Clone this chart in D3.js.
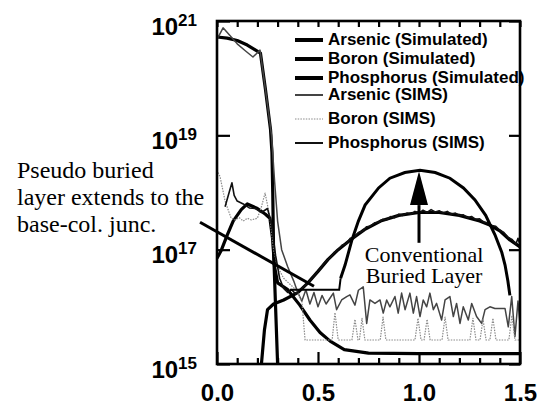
<html>
<head>
<meta charset="utf-8">
<style>
  body { margin: 0; background: #fff; }
  .tick-lab { font-family: "Liberation Sans", Arial, sans-serif; font-weight: bold; fill: #000; }
  .note { font-family: "Liberation Serif", "Times New Roman", serif; fill: #000; }
  .leg { font-family: "Liberation Sans", Arial, sans-serif; font-weight: bold; font-size: 17px; fill: #000; }
</style>
<script src="https://d3js.org/d3.v7.min.js"></script>
</head>
<body>
<svg width="537" height="406"></svg>
<script>
// depth (um) vs log10(concentration)
var asSim = [[0,20.72],[0.05,20.7],[0.1,20.66],[0.15,20.58],[0.215,20.44],[0.24,19.8],[0.265,19.1],[0.272,18.7],[0.276,18.0],[0.28,17.0],[0.29,16.0],[0.3,15.0]];
var asSims = [[0,20.68],[0.03,20.88],[0.1,20.6],[0.14,20.48],[0.178,20.37],[0.213,20.49],[0.24,19.8],[0.27,19.0],[0.285,18.2],[0.3,17.5],[0.32,17.0],[0.35,16.7],[0.38,16.45],
  [0.40,16.25],[0.42,16.1],[0.44,16.3],[0.46,16.05],[0.48,16.25],[0.50,16.0],[0.52,16.2],[0.54,16.05],[0.559,16.15],
  [0.576,16.24],[0.592,15.95],[0.617,16.12],[0.642,16.18],[0.658,16.21],[0.683,16.03],[0.700,16.29],[0.724,16.35],[0.741,15.71],[0.757,16.12],[0.782,16.06],[0.807,16.12],
  [0.823,15.89],[0.840,16.12],[0.856,16.0],[0.881,16.18],[0.897,15.89],[0.914,16.24],[0.931,15.95],[0.955,16.24],[0.972,15.89],[0.988,16.18],[1.005,15.83],[1.021,16.12],
  [1.038,16.0],[1.054,16.24],[1.071,15.95],[1.087,16.06],[1.112,15.77],[1.129,16.12],[1.153,16.18],[1.170,15.83],[1.186,16.06],[1.203,15.71],[1.219,16.0],[1.244,15.77],
  [1.261,16.06],[1.285,15.83],[1.310,15.71],[1.327,15.95],[1.351,16.0],[1.376,15.97],[1.401,15.97],[1.426,15.97],[1.442,15.65],[1.459,16.18],[1.475,15.48],[1.49,16.1],[1.5,15.7]];
var bSim = [[0,16.85],[0.02,16.98],[0.05,17.25],[0.08,17.5],[0.12,17.7],[0.15,17.8],[0.2,17.72],[0.24,17.62],[0.262,17.55],[0.275,17.2],[0.285,16.7],[0.3,16.42],[0.35,16.3],[0.41,16.03],
  [0.46,15.77],[0.51,15.55],[0.56,15.4],[0.63,15.25],[0.75,15.19],[1.0,15.18],[1.5,15.18]];
var bSims = [[0.005,18.35],[0.015,18.28],[0.04,17.85],[0.07,17.55],[0.09,17.52],[0.11,17.56],[0.13,17.5],[0.15,17.55],[0.17,17.52],[0.2,17.55],[0.22,17.75],[0.238,17.99],[0.262,17.57],
  [0.28,17.0],[0.3,16.7],[0.33,16.5],[0.36,16.4],[0.39,16.3],[0.42,16.1],[0.436,15.42],[0.57,15.42],[0.584,15.9],[0.6,15.42],[0.668,15.42],[0.683,15.78],[0.698,15.42],
  [0.705,15.42],[0.718,15.8],[0.732,15.42],[0.808,15.42],[0.822,15.82],[0.836,15.42],[0.98,15.42],[0.995,15.8],[1.01,15.42],[1.025,15.42],[1.04,15.78],[1.055,15.42],
  [1.114,15.42],[1.129,15.82],[1.144,15.42],[1.252,15.42],[1.267,15.8],[1.282,15.42],[1.302,15.42],[1.317,15.78],[1.332,15.42],[1.351,15.42],[1.366,15.8],[1.381,15.42],
  [1.445,15.42],[1.46,15.85],[1.475,15.42],[1.5,15.42]];
var pSim = [[0.22,15.0],[0.235,15.6],[0.25,15.95],[0.28,16.05],[0.33,16.12],[0.4,16.25],[0.45,16.42],[0.5,16.62],[0.55,16.83],[0.6,17.0],[0.66,17.17],[0.73,17.35],[0.81,17.5],
  [0.9,17.6],[1.0,17.65],[1.1,17.65],[1.2,17.6],[1.3,17.5],[1.35,17.43],[1.4,17.33],[1.45,17.17],[1.5,17.05]];
var pSims = [[0.04,17.75],[0.06,18.0],[0.074,18.17],[0.085,17.95],[0.1,17.85],[0.13,17.8],[0.16,17.73],[0.19,17.72],[0.22,17.65],[0.25,17.72],[0.27,17.45],[0.29,16.9],[0.31,16.5],
  [0.33,16.32],[0.35,16.25],[0.37,16.3],[0.39,16.22],[0.41,16.3],[0.43,16.35],[0.45,16.42],[0.47,16.5],[0.49,16.58],[0.51,16.66],
  [0.52,16.72],[0.54,16.8],[0.56,16.86],[0.58,16.95],[0.60,17.0],[0.62,17.08],[0.64,17.1],[0.66,17.2],[0.68,17.22],[0.70,17.3],[0.72,17.32],[0.74,17.4],[0.76,17.41],
  [0.78,17.47],[0.80,17.48],[0.82,17.53],[0.84,17.52],[0.86,17.58],[0.88,17.56],[0.90,17.62],[0.92,17.6],[0.94,17.64],[0.96,17.62],[0.98,17.67],[1.00,17.64],[1.02,17.69],
  [1.04,17.65],[1.06,17.7],[1.08,17.66],[1.10,17.68],[1.12,17.64],[1.14,17.67],[1.16,17.62],[1.18,17.64],[1.20,17.6],[1.22,17.61],[1.24,17.56],[1.26,17.58],[1.28,17.53],
  [1.30,17.54],[1.32,17.48],[1.34,17.47],[1.36,17.42],[1.38,17.41],[1.40,17.34],[1.42,17.3],[1.44,17.22],[1.46,17.18],[1.48,17.1],[1.49,17.2],[1.5,17.08]];
var convFoot = [[0.36,16.3],[0.605,16.3],[0.612,16.5]];
var convBL = [[0.612,16.5],[0.634,16.73],[0.668,17.17],[0.7,17.5],[0.733,17.78],[0.8,18.08],[0.856,18.25],[0.93,18.35],[1.005,18.39],[1.08,18.35],
  [1.153,18.25],[1.22,18.08],[1.277,17.87],[1.33,17.6],[1.376,17.26],[1.41,16.95],[1.426,16.73],[1.44,16.45],[1.45,16.2]];

var xTicks = [0, 0.5, 1.0, 1.5];
var xTickLabels = ["0.0", "0.5", "1.0", "1.5"];
var xMinor = [0.1,0.2,0.3,0.4,0.6,0.7,0.8,0.9,1.1,1.2,1.3,1.4];
var yExps = [15, 17, 19, 21];

var legendLabels = ["Arsenic (Simulated)", "Boron (Simulated)", "Phosphorus (Simulated)", "Arsenic (SIMS)", "Boron (SIMS)", "Phosphorus (SIMS)"];
var noteLines = ["Pseudo buried", "layer extends to the", "base-col. junc."];
var convLines = ["Conventional", "Buried Layer"];

var svg = d3.select("svg");
var m = { left: 217, right: 520, top: 21, bottom: 364 };
var x = d3.scaleLinear().domain([0, 1.5]).range([m.left, m.right]);
var y = d3.scaleLog().domain([1e15, 1e21]).range([m.bottom, m.top]);
var line = d3.line().x(function(d) { return x(d[0]); }).y(function(d) { return y(Math.pow(10, d[1])); });

svg.append("clipPath").attr("id", "pc").append("rect")
  .attr("x", m.left).attr("y", m.top).attr("width", m.right - m.left).attr("height", m.bottom - m.top);

// styles for each series (same order as legend)
var series = [
  { d: asSim, stroke: "#000", w: 3.2, dash: null },
  { d: bSim, stroke: "#000", w: 3.2, dash: null },
  { d: pSim, stroke: "#000", w: 3.2, dash: null },
  { d: asSims, stroke: "#444", w: 1.5, dash: null },
  { d: bSims, stroke: "#8a8a8a", w: 1.2, dash: "1.5,1.2" },
  { d: pSims, stroke: "#111", w: 1.6, dash: null }
];
var plot = svg.append("g").attr("clip-path", "url(#pc)");
series.forEach(function(s) {
  plot.append("path").datum(s.d).attr("d", line)
    .attr("fill", "none").attr("stroke", s.stroke).attr("stroke-width", s.w)
    .attr("stroke-dasharray", s.dash).attr("stroke-linejoin", "round");
});
plot.append("path").datum(convFoot).attr("d", line)
  .attr("fill", "none").attr("stroke", "#000").attr("stroke-width", 2);
plot.append("path").datum(convBL).attr("d", line)
  .attr("fill", "none").attr("stroke", "#000").attr("stroke-width", 3);

// axes with inward ticks
function axisStyle(g) {
  g.selectAll(".domain").remove();
  g.selectAll("line").attr("stroke", "#000").attr("stroke-width", 2.2);
}
svg.append("g").attr("transform", "translate(0," + m.bottom + ")")
  .call(d3.axisBottom(x).tickValues(xMinor).tickSize(-6).tickFormat(""))
  .call(axisStyle);
var xb = svg.append("g").attr("transform", "translate(0," + m.bottom + ")")
  .call(d3.axisBottom(x).tickValues(xTicks).tickSize(-12).tickFormat(function(d, i) { return xTickLabels[i]; }))
  .call(axisStyle);
xb.selectAll("text").attr("class", "tick-lab").attr("y", 37).attr("dy", null)
  .style("font-size", "24px").attr("fill", "#000");
svg.append("g").attr("transform", "translate(0," + m.top + ")")
  .call(d3.axisTop(x).tickValues(xMinor.concat(xTicks)).tickSize(-6).tickFormat(""))
  .call(axisStyle);
var yl = svg.append("g").attr("transform", "translate(" + m.left + ",0)")
  .call(d3.axisLeft(y).tickValues(yExps.map(function(e) { return Math.pow(10, e); })).tickSize(-13).tickPadding(20).tickFormat(""))
  .call(axisStyle);
yl.selectAll(".tick").each(function(d, i) {
  var t = d3.select(this).append("text").attr("class", "tick-lab").attr("text-anchor", "end")
    .attr("x", -20).attr("y", 13).style("font-size", "24px");
  t.append("tspan").text("10");
  t.append("tspan").attr("dy", -9).style("font-size", "17px").text(yExps[i]);
});
svg.append("g").attr("transform", "translate(" + m.right + ",0)")
  .call(d3.axisRight(y).tickValues(yExps.map(function(e) { return Math.pow(10, e); })).tickSize(-11).tickFormat(""))
  .call(axisStyle);

// frame
svg.append("rect").attr("x", m.left).attr("y", m.top).attr("width", m.right - m.left).attr("height", m.bottom - m.top)
  .attr("fill", "none").attr("stroke", "#000").attr("stroke-width", 2.6);

// legend
var leg = svg.append("g");
var legY = [40, 59, 78, 95, 119, 143];
legendLabels.forEach(function(lab, i) {
  var s = series[i];
  leg.append("line").attr("x1", 295).attr("x2", 323).attr("y1", legY[i]).attr("y2", legY[i])
    .attr("stroke", s.stroke).attr("stroke-width", i < 3 ? 4 : (i == 4 ? 1 : 2))
    .attr("stroke-dasharray", s.dash);
  leg.append("text").attr("class", "leg").attr("x", 328).attr("y", legY[i] + 5).text(lab);
});

// annotations
svg.selectAll(".note1").data(noteLines).enter().append("text").attr("class", "note")
  .attr("x", 17).attr("y", function(d, i) { return 178 + i * 27; })
  .style("font-size", "24px").text(function(d) { return d; });
svg.append("line").attr("x1", x(-0.084)).attr("y1", y(Math.pow(10, 17.48)))
  .attr("x2", x(0.48)).attr("y2", y(Math.pow(10, 16.36)))
  .attr("stroke", "#000").attr("stroke-width", 3);

var ax = x(1.0), tip = y(Math.pow(10, 18.37)), base = y(Math.pow(10, 17.78)), foot = y(Math.pow(10, 17.12));
svg.append("line").attr("x1", ax).attr("x2", ax).attr("y1", base).attr("y2", foot)
  .attr("stroke", "#000").attr("stroke-width", 3);
svg.append("path").attr("d", "M" + ax + "," + tip + "L" + (ax - 9) + "," + base + "L" + (ax + 9) + "," + base + "Z")
  .attr("fill", "#000");
svg.selectAll(".note2").data(convLines).enter().append("text").attr("class", "note")
  .attr("x", 424).attr("y", function(d, i) { return 262 + i * 21; }).attr("text-anchor", "middle")
  .style("font-size", "22px").text(function(d) { return d; });
</script>
</body>
</html>
